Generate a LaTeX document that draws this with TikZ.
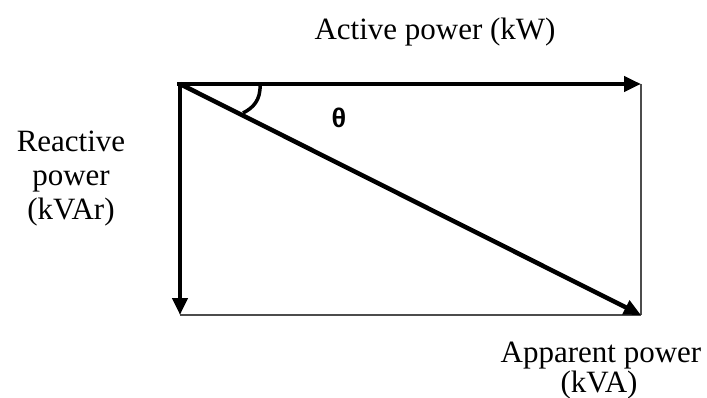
\documentclass[tikz,border=0pt]{standalone}
\usepackage{fontspec}
\setmainfont{Liberation Serif}
\newfontfamily\thetafont{Liberation Sans}
\usetikzlibrary{arrows.meta}
\begin{document}
\begin{tikzpicture}[x=1pt,y=-1pt,
  vec/.style={line width=4.5pt,-{Triangle[length=17pt,width=15pt]}},
  thin/.style={line width=1.4pt,draw=black!70},
  lbl/.style={font=\fontsize{31}{34}\selectfont,align=center,inner sep=0pt}]
\useasboundingbox (0,0) rectangle (707,398);
\coordinate (O) at (180,84);
\coordinate (P) at (641,84);
\coordinate (Q) at (180,315);
\coordinate (S) at (641,315);
\draw[thin] (P) -- (S);
\draw[thin] (Q) -- (S);
\draw[vec] (O) -- (Q);
\draw[vec] ([xshift=-3pt]O) -- (P);
\draw[vec] (O) -- (S);
\draw[line width=3.5pt] (260,84) .. controls (261,100) and (253,108) .. (243,113);
\node[lbl,anchor=base] (act) at (435,40) {Active power (kW)};
\node[lbl,anchor=base] (react) at (71,152) {Reactive};
\node[lbl,anchor=base] (react2) at (71,186) {power};
\node[lbl,anchor=base] (react3) at (71,220) {(kVAr)};
\node[lbl,anchor=base] (app) at (601,362) {Apparent power};
\node[lbl,anchor=base] (app2) at (599,392) {(kVA)};
\node[font=\thetafont\bfseries\fontsize{27}{30}\selectfont,inner sep=0pt] (th) at (339,118) {θ};
\end{tikzpicture}
\end{document}
